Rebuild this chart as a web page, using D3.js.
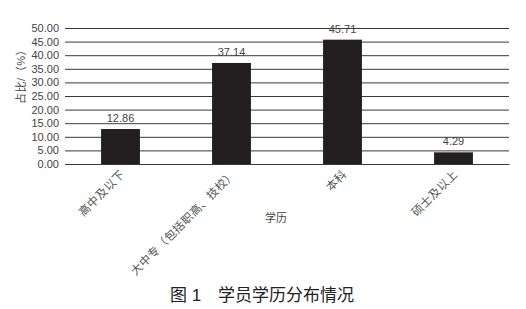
<html>
<head>
<meta charset='utf-8'>
<script src='https://d3js.org/d3.v7.min.js'></script>
<style>
body { margin: 0; background: #fff; }
text { font-family: 'Liberation Sans', 'Noto Sans CJK SC', sans-serif; }
</style>
</head>
<body>
<svg width=526 height=309></svg>
<script>
const categories = ['高中及以下', '大中专（包括职高、技校）', '本科', '硕士及以上']
const values = [12.86, 37.14, 45.71, 4.29]
const yTicks = [0, 5, 10, 15, 20, 25, 30, 35, 40, 45, 50]
const yTitle = '占比/（%）'
const xTitle = '学历'
const caption = '图 1　学员学历分布情况'

const svg = d3.select('svg')
const plotLeft = 65, plotRight = 509, plotTop = 28, plotBottom = 164

const x = d3.scaleBand().domain(categories).range([plotLeft, plotRight])
	.paddingInner(0.65).paddingOuter(0.325)
const y = d3.scaleLinear().domain([0, 50]).range([plotBottom, plotTop])

// gridlines + tick labels
const yAxis = svg.append('g')
	.attr('transform', 'translate(' + plotLeft + ',0)')
	.call(d3.axisLeft(y).tickValues(yTicks).tickFormat(d => d.toFixed(2))
		.tickSize(-(plotRight - plotLeft)).tickPadding(6))
yAxis.select('.domain').remove()
yAxis.selectAll('line').attr('stroke', '#3a3a3a').attr('stroke-width', 1)
yAxis.selectAll('text').attr('fill', '#444').style('font-size', '11px')

// bars
svg.append('g').selectAll('rect').data(values).enter().append('rect')
	.attr('x', (d, i) => x(categories[i]))
	.attr('y', d => y(d))
	.attr('width', x.bandwidth())
	.attr('height', d => plotBottom - y(d))
	.attr('fill', '#231f20')

// value labels
svg.append('g').selectAll('text').data(values).enter().append('text')
	.attr('x', (d, i) => x(categories[i]) + x.bandwidth() / 2)
	.attr('y', d => y(d) - 7)
	.attr('text-anchor', 'middle')
	.attr('fill', '#444')
	.style('font-size', '11px')
	.text(d => d.toFixed(2))

// x category labels
const xAxis = svg.append('g')
	.attr('transform', 'translate(0,' + plotBottom + ')')
	.call(d3.axisBottom(x).tickSize(0).tickPadding(0))
xAxis.select('.domain').attr('stroke', '#3a3a3a')
xAxis.selectAll('text')
	.attr('fill', '#555')
	.style('font-size', '11.5px')
	.style('letter-spacing', '0.4px')
	.attr('text-anchor', 'end')
	.attr('dy', 0)
	.attr('transform', 'translate(5,11) rotate(-45)')

// axis titles
svg.append('text')
	.attr('transform', 'translate(25,74) rotate(-90)')
	.attr('text-anchor', 'middle')
	.attr('fill', '#444')
	.style('font-size', '11px')
	.style('letter-spacing', '0.5px')
	.text(yTitle)

svg.append('text')
	.attr('x', 276).attr('y', 222)
	.attr('text-anchor', 'middle')
	.attr('fill', '#444')
	.style('font-size', '11px')
	.text(xTitle)

svg.append('text')
	.attr('x', 262).attr('y', 301)
	.attr('text-anchor', 'middle')
	.attr('fill', '#222')
	.style('font-size', '17px')
	.text(caption)
</script>
</body>
</html>
